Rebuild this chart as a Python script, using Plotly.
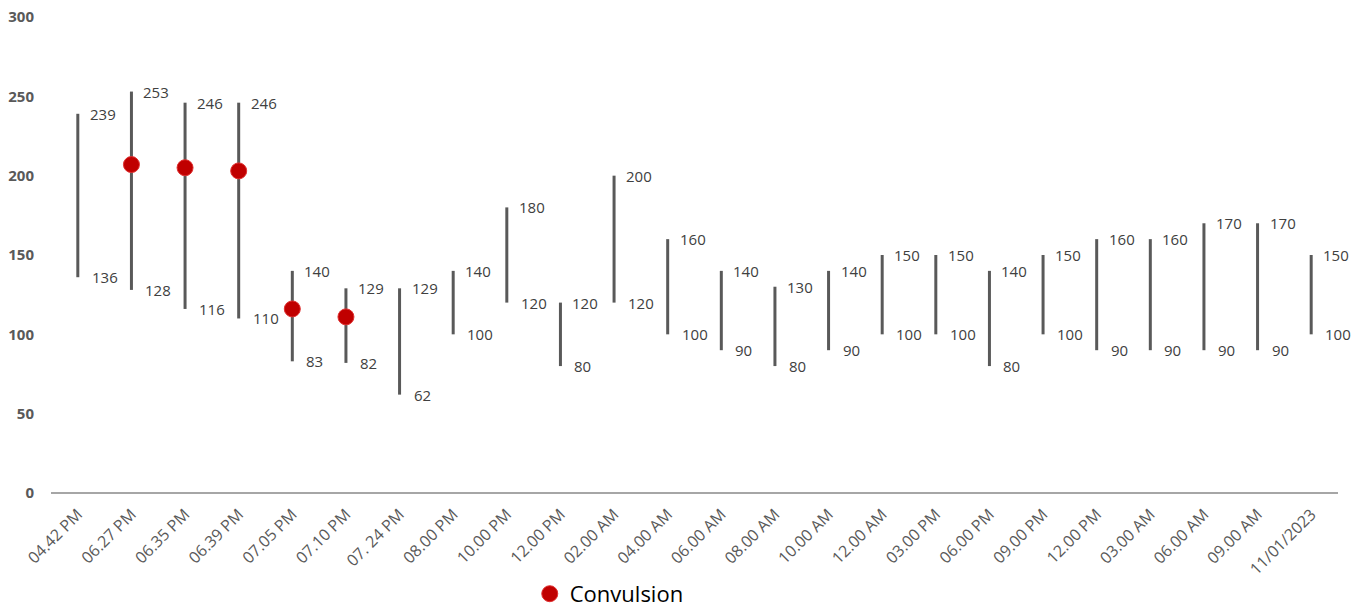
import plotly.graph_objects as go

categories = ["04.42 PM", "06.27 PM", "06.35 PM", "06.39 PM", "07.05 PM", "07.10 PM",
              "07. 24 PM", "08.00 PM", "10.00 PM", "12.00 PM", "02.00 AM", "04.00 AM",
              "06.00 AM", "08.00 AM", "10.00 AM", "12.00 AM", "03.00 PM", "06.00 PM",
              "09.00 PM", "12.00 PM", "03.00 AM", "06.00 AM", "09.00 AM", "11/01/2023"]
high = [239, 253, 246, 246, 140, 129, 129, 140, 180, 120, 200, 160,
        140, 130, 140, 150, 150, 140, 150, 160, 160, 170, 170, 150]
low = [136, 128, 116, 110, 83, 82, 62, 100, 120, 80, 120, 100,
       90, 80, 90, 100, 100, 80, 100, 90, 90, 90, 90, 100]
convulsion = [None, 207, 205, 203, 116, 111, None, None, None, None, None, None,
              None, None, None, None, None, None, None, None, None, None, None, None]

idx = list(range(len(categories)))

lx, ly = [], []
for i in idx:
    lx += [i, i, None]
    ly += [low[i], high[i], None]

fig = go.Figure()
fig.add_trace(go.Scatter(x=lx, y=ly, mode="lines",
                         line=dict(color="#595959", width=3),
                         showlegend=False, hoverinfo="skip"))
fig.add_trace(go.Scatter(x=idx, y=convulsion, mode="markers", name="Convulsion",
                         marker=dict(color="#C00000", size=16,
                                     line=dict(color="#E03030", width=1))))

label_font = dict(family="Open Sans, Noto Sans, sans-serif", size=15, color="#404040")
for i in idx:
    fig.add_annotation(x=i, y=high[i], text=str(high[i]), showarrow=False,
                       xanchor="left", yanchor="middle", xshift=10, font=label_font)
    fig.add_annotation(x=i, y=low[i], text=str(low[i]), showarrow=False,
                       xanchor="left", yanchor="middle", xshift=12, font=label_font)

fig.update_layout(
    width=1364, height=608,
    margin=dict(l=51, r=26, t=17, b=115, autoexpand=False),
    paper_bgcolor="white", plot_bgcolor="white",
    xaxis=dict(range=[-0.5, len(categories) - 0.5], tickmode="array",
               tickvals=idx, ticktext=categories, tickangle=-45, automargin=False,
               showgrid=False, zeroline=False, showline=False, ticks="",
               ticklabelstandoff=8,
               tickfont=dict(family="Open Sans, sans-serif", size=16, color="#595959")),
    yaxis=dict(range=[0, 300], tickvals=[0, 50, 100, 150, 200, 250, 300], automargin=False,
               showgrid=False, zeroline=True, zerolinecolor="#A6A6A6", zerolinewidth=1.5,
               showline=False, ticks="", ticklabelstandoff=16,
               tickfont=dict(family="Open Sans, sans-serif", size=15, color="#595959", weight="bold")),
    legend=dict(orientation="h", x=0.372, xanchor="left", y=-0.212, yanchor="middle",
                font=dict(family="Open Sans, sans-serif", size=22, color="#000000"),
                bgcolor="rgba(0,0,0,0)", borderwidth=0, tracegroupgap=0),
    showlegend=True,
)

fig.write_html("out.html")
